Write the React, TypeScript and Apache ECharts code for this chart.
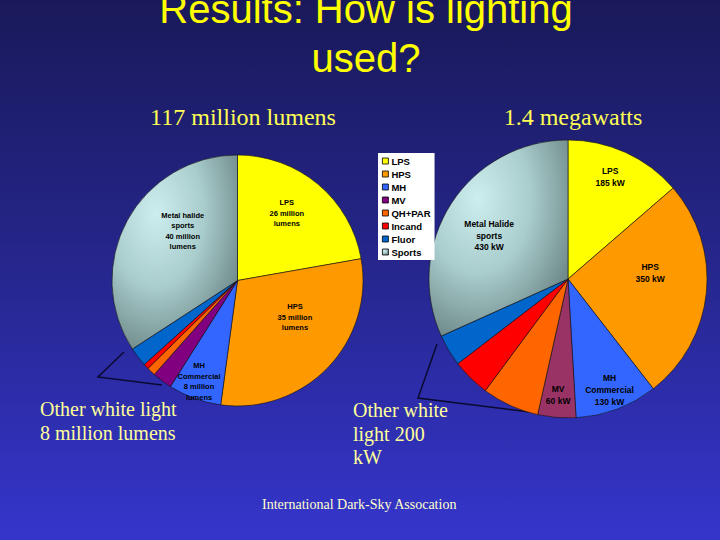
import React, { useEffect, useRef } from "react";
import * as echarts from "echarts";

const categories = ["LPS", "HPS", "MH", "MV", "QH+PAR", "Incand", "Fluor", "Sports"];
const lumens = [26, 35, 8, 3, 1.3, 0.8, 2.9, 40];
const kilowatts = [185, 350, 130, 60, 90, 60, 50, 430];
const lumenLabels = [
  "LPS\n26 million\nlumens",
  "HPS\n35 million\nlumens",
  "MH\nCommercial\n8 million\nlumens",
  "", "", "", "",
  "Metal halide\nsports\n40 million\nlumens",
];
const kwLabels = [
  "LPS\n185 kW",
  "HPS\n350 kW",
  "MH\nCommercial\n130 kW",
  "MV\n60 kW",
  "", "", "",
  "Metal Halide\nsports\n430 kW",
];
const titleLines = ["Results: How is lighting", "used?"];
const leftHeading = "117 million lumens";
const rightHeading = "1.4 megawatts";
const leftNote = ["Other white light", "8 million lumens"];
const rightNote = ["Other white", "light 200", "kW"];
const credit = "International Dark-Sky Assocation";

const sportsFill = new echarts.graphic.RadialGradient(0.35, 0.3, 0.85, [
  { offset: 0, color: "#cdeeee" },
  { offset: 0.45, color: "#a9cccc" },
  { offset: 1, color: "#5f7777" },
]);
const leftColors = ["#ffff00", "#ff9900", "#3366ff", "#800080", "#ff6600", "#ff0000", "#0066cc", sportsFill];
const rightColors = ["#ffff00", "#ff9900", "#3366ff", "#993366", "#ff6600", "#ff0000", "#0066cc", sportsFill];

const leftOffsets = [[7, -17], [10, -9], [-16, 39], [0, 0], [0, 0], [0, 0], [0, 0], [3, -18]];
const rightOffsets = [[12, -36], [10, -13], [16, 43], [-4, 44], [0, 0], [0, 0], [0, 0], [-18, -4]];

function buildData(values: number[], labels: string[], colors: any[], fontSize: number, lineHeight: number) {
  return categories.map((name, i) => ({
    name,
    value: values[i],
    itemStyle: { color: colors[i] },
    label: {
      show: labels[i] !== "",
      formatter: labels[i],
      fontSize,
      lineHeight,
    },
  }));
}

export default function App() {
  const ref = useRef<HTMLDivElement>(null);
  useEffect(() => {
    document.body.style.margin = "0";
    const chart = echarts.init(ref.current!, null, { renderer: "svg" });
    const labelBase = {
      position: "inside",
      color: "#000",
      fontFamily: "Liberation Sans, Arial, sans-serif",
      fontWeight: "bold",
      align: "center",
    };
    const textEl = (text: string, x: number, y: number, size: number, color: string, family: string, align = "left") => ({
      type: "text",
      x,
      y,
      style: {
        text,
        fill: color,
        font: `${size}px ${family}`,
        textAlign: align,
        textVerticalAlign: "middle",
      },
    });
    const serif = "'Liberation Serif', 'Times New Roman', serif";
    const sans = "'Liberation Sans', Arial, sans-serif";
    chart.setOption({
      animation: false,
      backgroundColor: {
        type: "linear",
        x: 0, y: 0, x2: 0, y2: 1,
        colorStops: [
          { offset: 0, color: "#19195a" },
          { offset: 0.5, color: "#26268e" },
          { offset: 1, color: "#3535cc" },
        ],
      },
      legend: {
        orient: "vertical",
        left: 378,
        top: 153,
        data: categories,
        selectedMode: false,
        backgroundColor: "#ffffff",
        padding: [3, 4, 3, 4],
        itemWidth: 6,
        itemHeight: 6,
        itemGap: 3,
        icon: "rect",
        itemStyle: { borderColor: "#000", borderWidth: 0.8 },
        textStyle: {
          color: "#000",
          fontSize: 9.5,
          fontWeight: "bold",
          fontFamily: sans,
          lineHeight: 10,
          padding: [0, 0, 0, -2],
        },
      },
      series: [
        {
          type: "pie",
          center: [237.5, 280.5],
          radius: 125.5,
          startAngle: 90,
          avoidLabelOverlap: false,
          itemStyle: { borderColor: "#111", borderWidth: 0.6 },
          label: labelBase,
          labelLine: { show: false },
          labelLayout: (p: any) => ({ dx: leftOffsets[p.dataIndex][0], dy: leftOffsets[p.dataIndex][1] }),
          data: buildData(lumens, lumenLabels, leftColors, 7.5, 10.5),
          emphasis: { disabled: true },
        },
        {
          type: "pie",
          center: [568, 279],
          radius: 139,
          startAngle: 90,
          avoidLabelOverlap: false,
          itemStyle: { borderColor: "#111", borderWidth: 0.6 },
          label: labelBase,
          labelLine: { show: false },
          labelLayout: (p: any) => ({ dx: rightOffsets[p.dataIndex][0], dy: rightOffsets[p.dataIndex][1] }),
          data: buildData(kilowatts, kwLabels, rightColors, 8.5, 11.7),
          emphasis: { disabled: true },
        },
      ],
      graphic: [
        textEl(titleLines[0], 366, 9, 40, "#ffff00", sans, "center"),
        textEl(titleLines[1], 366, 58, 40, "#ffff00", sans, "center"),
        textEl(leftHeading, 243, 117, 24, "#ffff55", serif, "center"),
        textEl(rightHeading, 573, 117, 24, "#ffff55", serif, "center"),
        textEl(leftNote[0], 40, 409, 20, "#ffff99", serif),
        textEl(leftNote[1], 40, 433, 20, "#ffff99", serif),
        textEl(rightNote[0], 353, 410, 20, "#ffff99", serif),
        textEl(rightNote[1], 353, 434, 20, "#ffff99", serif),
        textEl(rightNote[2], 353, 457, 20, "#ffff99", serif),
        textEl(credit, 262, 504, 14, "#ffffcc", serif),
        {
          type: "polyline",
          shape: { points: [[124, 352], [98, 377], [162, 385]] },
          style: { stroke: "#0a0a30", lineWidth: 1.5, fill: "none" },
        },
        {
          type: "polyline",
          shape: { points: [[437, 344], [418, 398], [545, 414]] },
          style: { stroke: "#0a0a30", lineWidth: 1.5, fill: "none" },
        },
      ],
    });
    return () => chart.dispose();
  }, []);
  return <div ref={ref} style={{ width: 720, height: 540 }} />;
}
